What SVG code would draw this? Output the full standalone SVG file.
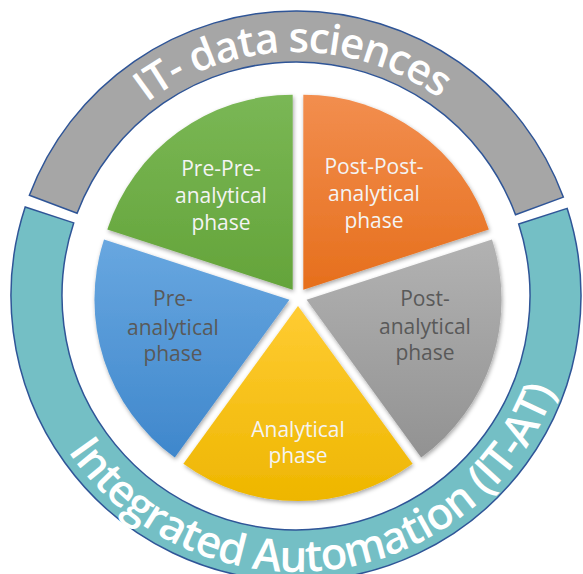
<svg xmlns="http://www.w3.org/2000/svg" width="583" height="574" viewBox="0 0 583 574">
  <defs>
    <style>
      .band { stroke: #2f5597; stroke-width: 1.5; }
      .band-label { font-family: "Open Sans", "Liberation Sans", sans-serif; font-weight: 600; fill: #ffffff; }
      .slice-label { font-family: "Open Sans", "Liberation Sans", sans-serif; font-size: 21px; text-anchor: middle; }
      .light { fill: #f4f4f4; }
      .dark { fill: #595959; }
      .slice { filter: url(#shadow); }
    </style>
    <filter id="shadow" x="-10%" y="-10%" width="120%" height="120%">
      <feDropShadow dx="1" dy="2" stdDeviation="2" flood-color="#000" flood-opacity="0.35"/>
    </filter>
    <linearGradient id="gGreen" x1="0" y1="0" x2="0" y2="1">
      <stop offset="0" stop-color="#7ab755"/>
      <stop offset="1" stop-color="#64a43a"/>
    </linearGradient>
    <linearGradient id="gOrange" x1="0" y1="0" x2="0" y2="1">
      <stop offset="0" stop-color="#f28e4f"/>
      <stop offset="1" stop-color="#e66f1c"/>
    </linearGradient>
    <linearGradient id="gGray" x1="0" y1="0" x2="0" y2="1">
      <stop offset="0" stop-color="#b2b2b2"/>
      <stop offset="1" stop-color="#929292"/>
    </linearGradient>
    <linearGradient id="gYellow" x1="0" y1="0" x2="0" y2="1">
      <stop offset="0" stop-color="#ffcc33"/>
      <stop offset="1" stop-color="#eeb600"/>
    </linearGradient>
    <linearGradient id="gBlue" x1="0" y1="0" x2="0" y2="1">
      <stop offset="0" stop-color="#68a7e0"/>
      <stop offset="1" stop-color="#3f87cc"/>
    </linearGradient>
    <!-- baselines for the curved band labels -->
    <path id="topArc" d="M 52 296 A 244 244 0 0 1 540 296"/>
    <path id="bottomArc" d="M 36.6 201.6 A 276 276 0 1 0 555.4 201.6"/>
  </defs>

  <rect width="583" height="574" fill="#ffffff"/>

  <!-- outer bands -->
  <g id="it-data-sciences">
    <path class="band" fill="#a6a6a6" d="M 29.4 195.3 A 285 285 0 0 1 563.3 197.1 L 515.5 214.8 A 234 234 0 0 0 77.1 213.3 Z"/>
    <text class="band-label" font-size="42" letter-spacing="-1.2"><textPath href="#topArc" startOffset="49.5%" text-anchor="middle">IT- data sciences</textPath></text>
  </g>
  <g id="integrated-automation">
    <path class="band" fill="#74bfc5" d="M 567.2 208.4 A 285 285 0 1 1 25.2 207 L 73.7 222.9 A 234 234 0 1 0 518.7 224.1 Z"/>
    <text class="band-label" font-size="44" letter-spacing="-1"><textPath href="#bottomArc" startOffset="53.2%" text-anchor="middle">Integrated Automation (IT-AT)</textPath></text>
  </g>

  <!-- pie slices -->
  <g id="pre-pre-analytical">
    <path class="slice" fill="url(#gGreen)" d="M 292.7 289.7 L 107.3 229.5 A 195 195 0 0 1 292.7 94.7 Z"/>
    <text class="slice-label light"><tspan x="221" y="176">Pre-Pre-</tspan><tspan x="221" y="203">analytical</tspan><tspan x="221" y="230">phase</tspan></text>
  </g>
  <g id="post-post-analytical">
    <path class="slice" fill="url(#gOrange)" d="M 303.3 289.7 L 303.3 94.7 A 195 195 0 0 1 488.8 229.5 Z"/>
    <text class="slice-label light"><tspan x="374" y="174">Post-Post-</tspan><tspan x="374" y="201">analytical</tspan><tspan x="374" y="228">phase</tspan></text>
  </g>
  <g id="post-analytical">
    <path class="slice" fill="url(#gGray)" d="M 306.6 299.8 L 492 239.5 A 195 195 0 0 1 421.2 457.5 Z"/>
    <text class="slice-label dark"><tspan x="425" y="306">Post-</tspan><tspan x="425" y="334">analytical</tspan><tspan x="425" y="360">phase</tspan></text>
  </g>
  <g id="analytical">
    <path class="slice" fill="url(#gYellow)" d="M 298 306 L 412.6 463.8 A 195 195 0 0 1 183.4 463.8 Z"/>
    <text class="slice-label light"><tspan x="298" y="437">Analytical</tspan><tspan x="298" y="463">phase</tspan></text>
  </g>
  <g id="pre-analytical">
    <path class="slice" fill="url(#gBlue)" d="M 289.4 299.8 L 174.8 457.5 A 195 195 0 0 1 104 239.5 Z"/>
    <text class="slice-label dark"><tspan x="173" y="306">Pre-</tspan><tspan x="173" y="335">analytical</tspan><tspan x="173" y="361">phase</tspan></text>
  </g>

  <!-- no connectors in this figure -->
  <g id="connectors"/>
</svg>
